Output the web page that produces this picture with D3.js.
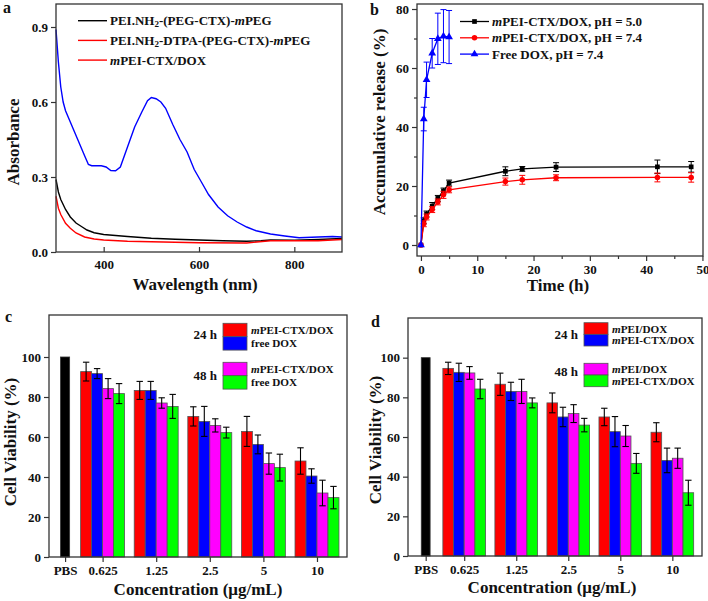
<!DOCTYPE html>
<html>
<head>
<meta charset="utf-8">
<script src="https://cdn.jsdelivr.net/npm/d3@7"></script>
<style>
body { margin: 0; background: #fff; }
text { font-family: "Liberation Serif", "Times New Roman", serif; font-weight: bold; fill: #111; }
.axis text { font-size: 13px; }
.axis line { stroke: #333; stroke-width: 1.2; }
.title { font-size: 17px; }
.leg { font-size: 13px; }
.bleg { font-size: 11.2px; }
.letter { font-size: 16px; }
</style>
</head>
<body>
<svg id="fig" width="708" height="601"></svg>
<script>
// ---- panel a: UV-vis spectra
var blueWl  = [300, 305, 310, 315, 320, 330, 340, 350, 360, 368, 375, 395, 405, 415, 425, 435, 450, 465, 480, 492, 500, 510, 520, 530, 545, 560, 575, 590, 605, 620, 640, 660, 680, 700, 720, 750, 780, 810, 850, 880, 900];
var blueAbs = [0.89, 0.76, 0.66, 0.60, 0.565, 0.52, 0.475, 0.43, 0.385, 0.35, 0.345, 0.345, 0.34, 0.326, 0.325, 0.34, 0.42, 0.50, 0.56, 0.605, 0.618, 0.613, 0.60, 0.575, 0.51, 0.45, 0.40, 0.33, 0.28, 0.23, 0.18, 0.145, 0.12, 0.10, 0.085, 0.072, 0.064, 0.057, 0.06, 0.062, 0.06];
var blackWl  = [300, 305, 310, 320, 330, 342, 355, 365, 380, 400, 450, 500, 550, 600, 650, 700, 730, 750, 800, 850, 900];
var blackAbs = [0.29, 0.24, 0.21, 0.17, 0.14, 0.116, 0.10, 0.088, 0.077, 0.07, 0.062, 0.055, 0.051, 0.048, 0.045, 0.043, 0.045, 0.048, 0.047, 0.05, 0.054];
var redWl  = [300, 305, 310, 320, 330, 342, 360, 380, 400, 450, 500, 600, 700, 750, 800, 850, 900];
var redAbs = [0.223, 0.175, 0.15, 0.115, 0.095, 0.076, 0.06, 0.052, 0.048, 0.043, 0.041, 0.037, 0.036, 0.045, 0.045, 0.045, 0.05];
var specNames = [
  [["PEI.NH", ""], ["2", "sub"], ["-(PEG-CTX)-", ""], ["m", "i"], ["PEG", ""]],
  [["PEI.NH", ""], ["2", "sub"], ["-DTPA-(PEG-CTX)-", ""], ["m", "i"], ["PEG", ""]],
  [["m", "i"], ["PEI-CTX/DOX", ""]]
];

// ---- panel b: release
var relTime  = [0, 0.5, 1, 2, 3, 4, 5, 15, 18, 24, 42, 48];
var relPh50  = [0, 8.2, 10.5, 13.2, 15.8, 18.3, 21, 25, 25.8, 26.4, 26.5, 26.5];
var relPh50E = [0, 1, 1, 1.2, 1, 1, 1, 1.5, 0.8, 1.5, 2.3, 1.8];
var relPh74  = [0, 7.2, 9.5, 12, 14.6, 17, 18.7, 21.5, 22.1, 22.8, 22.9, 22.9];
var relPh74E = [0, 1, 1, 1, 1, 1.2, 1, 1.2, 1.5, 1, 1.5, 1.6];
var freeTime = [0, 0.5, 1, 2, 3, 4, 5];
var freeDox  = [0, 42.7, 56, 65, 69.9, 70.8, 70.5];
var freeDoxE = [0, 4, 6, 5, 8.7, 9, 9];
var relNames = [
  [["m", "i"], ["PEI-CTX/DOX, pH = 5.0", ""]],
  [["m", "i"], ["PEI-CTX/DOX, pH = 7.4", ""]],
  [["Free DOX, pH = 7.4", ""]]
];

// ---- panels c, d: cell viability
var concLabels = ["PBS", "0.625", "1.25", "2.5", "5", "10"];
var pbsValue = 100;
var cVals = [
  [92.7, 83.3, 70.3, 62.8, 48.0],
  [91.7, 83.3, 67.8, 56.3, 40.5],
  [84.2, 77.0, 65.8, 46.7, 32.0],
  [81.7, 75.3, 62.2, 44.7, 29.7]
];
var cErrs = [
  [4.7, 4.5, 4.8, 7.5, 6.6],
  [2.5, 4.5, 7.5, 4.7, 3.6],
  [5.0, 2.6, 3.3, 5.3, 6.4],
  [5.0, 6.0, 2.7, 6.7, 5.6]
];
var dVals = [
  [94.6, 86.6, 77.2, 70.1, 62.4],
  [92.6, 83.0, 70.1, 62.7, 48.2],
  [92.3, 83.0, 71.8, 60.5, 49.3],
  [84.2, 77.2, 66.0, 46.7, 31.9]
];
var dErrs = [
  [3.1, 5.6, 5.0, 4.4, 4.8],
  [4.6, 4.6, 4.9, 7.6, 6.2],
  [3.2, 6.1, 4.5, 5.3, 5.1],
  [4.9, 2.5, 3.4, 5.0, 6.3]
];
var cNames = [
  [["m", "i"], ["PEI-CTX/DOX", ""]],
  [["free DOX", ""]],
  [["m", "i"], ["PEI-CTX/DOX", ""]],
  [["free DOX", ""]]
];
var dNames = [
  [["m", "i"], ["PEI/DOX", ""]],
  [["m", "i"], ["PEI-CTX/DOX", ""]],
  [["m", "i"], ["PEI/DOX", ""]],
  [["m", "i"], ["PEI-CTX/DOX", ""]]
];
var barColors = ["#ff0000", "#0000ff", "#ff00ff", "#00ff00"];

var svg = d3.select("#fig");

function richText(sel, parts) {
  parts.forEach(function (p) {
    var t = sel.append("tspan").text(p[0]);
    if (p[1] === "i") t.attr("font-style", "italic");
    if (p[1] === "sub") t.attr("font-size", "9px").attr("baseline-shift", "-22%");
  });
}

function frame(g, w, h) {
  g.append("rect")
    .attr("width", w).attr("height", h)
    .attr("fill", "none").attr("stroke", "#333").attr("stroke-width", 1.3);
}

function noDomain(g) { g.select(".domain").remove(); }

// ================= panel a
function panelA() {
  var w = 286, h = 248;
  var g = svg.append("g").attr("transform", "translate(56,4)");
  var x = d3.scaleLinear().domain([300, 900]).range([0, w]);
  var y = d3.scaleLinear().domain([0, 0.992]).range([h, 0]);

  g.append("g").attr("class", "axis")
    .attr("transform", "translate(0," + h + ")")
    .call(d3.axisBottom(x).tickValues([400, 600, 800]).tickSize(-5).tickPadding(8))
    .call(noDomain);
  g.append("g").attr("class", "axis")
    .call(d3.axisLeft(y).tickValues([0, 0.3, 0.6, 0.9]).tickFormat(d3.format(".1f")).tickSize(5).tickPadding(3))
    .call(noDomain);

  var line = d3.line().x(function (d) { return x(d[0]); }).y(function (d) { return y(d[1]); });
  var series = [[blackWl, blackAbs, "#000"], [redWl, redAbs, "#ff0000"], [blueWl, blueAbs, "#0000ff"]];
  series.forEach(function (s) {
    g.append("path")
      .datum(d3.zip(s[0], s[1]))
      .attr("d", line)
      .attr("fill", "none")
      .attr("stroke", s[2])
      .attr("stroke-width", 1.4);
  });
  frame(g, w, h);

  var legColors = ["#000", "#ff0000", "#ff0000"];
  specNames.forEach(function (name, i) {
    var ly = 16.7 + i * 19.7;
    g.append("line").attr("x1", 22).attr("x2", 51).attr("y1", ly).attr("y2", ly)
      .attr("stroke", legColors[i]).attr("stroke-width", 1.4);
    richText(g.append("text").attr("class", "leg").attr("x", 54).attr("y", ly + 4.5), name);
  });

  svg.append("text").attr("class", "title").attr("text-anchor", "middle")
    .attr("transform", "translate(19,142) rotate(-90)").text("Absorbance");
  svg.append("text").attr("class", "title").attr("text-anchor", "middle")
    .attr("x", 195).attr("y", 290).text("Wavelength (nm)");
  svg.append("text").attr("class", "letter").attr("x", 3).attr("y", 13).text("a");
}

// ================= panel b
function panelB() {
  var w = 286, h = 252;
  var g = svg.append("g").attr("transform", "translate(417,4)");
  var x = d3.scaleLinear().domain([-0.7, 50.1]).range([0, w]);
  var y = d3.scaleLinear().domain([-3.73, 81.7]).range([h, 0]);

  g.append("g").attr("class", "axis")
    .attr("transform", "translate(0," + h + ")")
    .call(d3.axisBottom(x).tickValues(d3.range(5, 50, 10)).tickSize(3).tickFormat(""))
    .call(noDomain);
  g.append("g").attr("class", "axis")
    .attr("transform", "translate(0," + h + ")")
    .call(d3.axisBottom(x).tickValues(d3.range(0, 51, 10)).tickSize(5).tickPadding(4))
    .call(noDomain);
  g.append("g").attr("class", "axis")
    .call(d3.axisLeft(y).tickValues(d3.range(10, 80, 20)).tickSize(3).tickFormat(""))
    .call(noDomain);
  g.append("g").attr("class", "axis")
    .call(d3.axisLeft(y).tickValues(d3.range(0, 81, 20)).tickSize(5).tickPadding(3))
    .call(noDomain);

  var line = d3.line().x(function (d) { return x(d[0]); }).y(function (d) { return y(d[1]); });
  var series = [
    [relTime, relPh50, relPh50E, "#000", "square"],
    [relTime, relPh74, relPh74E, "#ff0000", "circle"],
    [freeTime, freeDox, freeDoxE, "#0000ff", "triangle"]
  ];
  var symbols = {
    square: d3.symbol().type(d3.symbolSquare).size(22),
    circle: d3.symbol().type(d3.symbolCircle).size(24),
    triangle: d3.symbol().type(d3.symbolTriangle).size(26)
  };

  series.forEach(function (s) {
    var pts = d3.zip(s[0], s[1], s[2]);
    var sg = g.append("g");
    sg.append("path").datum(pts).attr("d", line)
      .attr("fill", "none").attr("stroke", s[3]).attr("stroke-width", 1.3);
    var eb = sg.selectAll(".eb").data(pts.filter(function (d) { return d[2] > 0; })).enter().append("g");
    eb.append("line")
      .attr("x1", function (d) { return x(d[0]); }).attr("x2", function (d) { return x(d[0]); })
      .attr("y1", function (d) { return y(d[1] - d[2]); }).attr("y2", function (d) { return y(d[1] + d[2]); })
      .attr("stroke", s[3]).attr("stroke-width", 1);
    [-1, 1].forEach(function (sgn) {
      eb.append("line")
        .attr("x1", function (d) { return x(d[0]) - 3; }).attr("x2", function (d) { return x(d[0]) + 3; })
        .attr("y1", function (d) { return y(d[1] + sgn * d[2]); }).attr("y2", function (d) { return y(d[1] + sgn * d[2]); })
        .attr("stroke", s[3]).attr("stroke-width", 1);
    });
    sg.selectAll(".pt").data(pts).enter().append("path")
      .attr("d", symbols[s[4]])
      .attr("transform", function (d) { return "translate(" + x(d[0]) + "," + y(d[1]) + ")"; })
      .attr("fill", s[3]);
  });
  frame(g, w, h);

  relNames.forEach(function (name, i) {
    var ly = 17.5 + i * 16.3;
    var s = series[i];
    g.append("line").attr("x1", 43).attr("x2", 72).attr("y1", ly).attr("y2", ly)
      .attr("stroke", s[3]).attr("stroke-width", 1.3);
    g.append("path").attr("d", symbols[s[4]]).attr("transform", "translate(57.5," + ly + ")").attr("fill", s[3]);
    richText(g.append("text").attr("class", "leg").attr("x", 75).attr("y", ly + 4.5), name);
  });

  svg.append("text").attr("class", "title").attr("text-anchor", "middle")
    .attr("transform", "translate(385,122) rotate(-90)").text("Accumulative release (%)");
  svg.append("text").attr("class", "title").attr("text-anchor", "middle")
    .attr("x", 558).attr("y", 291).text("Time (h)");
  svg.append("text").attr("class", "letter").attr("x", 370).attr("y", 15).text("b");
}

// ================= panels c and d
function barPanel(opt) {
  var w = opt.w, h = opt.h;
  var g = svg.append("g").attr("transform", "translate(" + opt.left + "," + opt.top + ")");
  var x = d3.scaleLinear().domain(opt.xDomain).range([0, w]);
  var y = d3.scaleLinear().domain([0, opt.yMax]).range([h, 0]);
  var pos = [opt.pbsPos, 1, 2, 3, 4, 5];
  var bw = 0.205, pbw = 0.17;

  g.append("g").attr("class", "axis")
    .attr("transform", "translate(0," + h + ")")
    .call(d3.axisBottom(x).tickValues(pos).tickSize(5).tickPadding(4)
      .tickFormat(function (d, i) { return concLabels[i]; }))
    .call(noDomain);
  g.append("g").attr("class", "axis")
    .call(d3.axisLeft(y).tickValues(d3.range(0, 101, 20)).tickSize(5).tickPadding(3))
    .call(noDomain);

  g.append("rect")
    .attr("x", x(pos[0] - pbw / 2)).attr("width", x(pbw) - x(0))
    .attr("y", y(pbsValue)).attr("height", h - y(pbsValue))
    .attr("fill", "#000").attr("stroke", "#333").attr("stroke-width", 0.8);

  opt.vals.forEach(function (vals, k) {
    var data = vals.map(function (v, i) { return { v: v, e: opt.errs[k][i], c: pos[i + 1] + (k - 1.5) * bw }; });
    var sg = g.append("g");
    sg.selectAll("rect").data(data).enter().append("rect")
      .attr("x", function (d) { return x(d.c - bw / 2); })
      .attr("width", x(bw) - x(0))
      .attr("y", function (d) { return y(d.v); })
      .attr("height", function (d) { return h - y(d.v); })
      .attr("fill", barColors[k]).attr("stroke", "#555").attr("stroke-width", 0.8);
    sg.selectAll(".eb").data(data).enter().append("line")
      .attr("x1", function (d) { return x(d.c); }).attr("x2", function (d) { return x(d.c); })
      .attr("y1", function (d) { return y(d.v - d.e); }).attr("y2", function (d) { return y(d.v + d.e); })
      .attr("stroke", "#000").attr("stroke-width", 1.1);
    [-1, 1].forEach(function (sgn) {
      sg.selectAll(".cap").data(data).enter().append("line")
        .attr("x1", function (d) { return x(d.c) - 3.2; }).attr("x2", function (d) { return x(d.c) + 3.2; })
        .attr("y1", function (d) { return y(d.v + sgn * d.e); }).attr("y2", function (d) { return y(d.v + sgn * d.e); })
        .attr("stroke", "#000").attr("stroke-width", 1.1);
    });
  });
  frame(g, w, h);

  // legend
  var L = opt.leg;
  opt.names.forEach(function (name, k) {
    var by = L.boxY[k];
    g.append("rect").attr("x", L.boxX).attr("y", by).attr("width", 24).attr("height", L.boxH)
      .attr("fill", barColors[k]).attr("stroke", "#555").attr("stroke-width", 0.8);
    richText(g.append("text").attr("class", "bleg").attr("x", L.boxX + 28).attr("y", by + L.boxH / 2 + 4), name);
  });
  g.append("text").attr("class", "leg").attr("text-anchor", "end")
    .attr("x", L.boxX - 6).attr("y", L.hY[0]).text("24 h");
  g.append("text").attr("class", "leg").attr("text-anchor", "end")
    .attr("x", L.boxX - 6).attr("y", L.hY[1]).text("48 h");

  svg.append("text").attr("class", "title").attr("text-anchor", "middle")
    .attr("transform", "translate(" + opt.yTitle[0] + "," + opt.yTitle[1] + ") rotate(-90)").text("Cell Viability (%)");
  svg.append("text").attr("class", "title").attr("text-anchor", "middle")
    .attr("x", opt.xTitle[0]).attr("y", opt.xTitle[1]).text("Concentration (\u03bcg/mL)");
  svg.append("text").attr("class", "letter").attr("x", opt.letterPos[0]).attr("y", opt.letterPos[1]).text(opt.letter);
}

panelA();
panelB();
barPanel({
  left: 49, top: 315, w: 298, h: 242, xDomain: [0, 5.56], yMax: 121, pbsPos: 0.3,
  vals: cVals, errs: cErrs, names: cNames,
  leg: { boxX: 174, boxY: [8.3, 21.7, 47.3, 60.7], boxH: 13.4, hY: [23.5, 65] },
  yTitle: [16, 442], xTitle: [198, 595], letter: "c", letterPos: [5, 322]
});
barPanel({
  left: 408, top: 318, w: 294, h: 238, xDomain: [-0.08, 5.57], yMax: 120, pbsPos: 0.26,
  vals: dVals, errs: dErrs, names: dNames,
  leg: { boxX: 176, boxY: [4.7, 16.3, 45.3, 57], boxH: 11.7, hY: [21, 58] },
  yTitle: [381, 440], xTitle: [552, 593], letter: "d", letterPos: [371, 327]
});
</script>
</body>
</html>
